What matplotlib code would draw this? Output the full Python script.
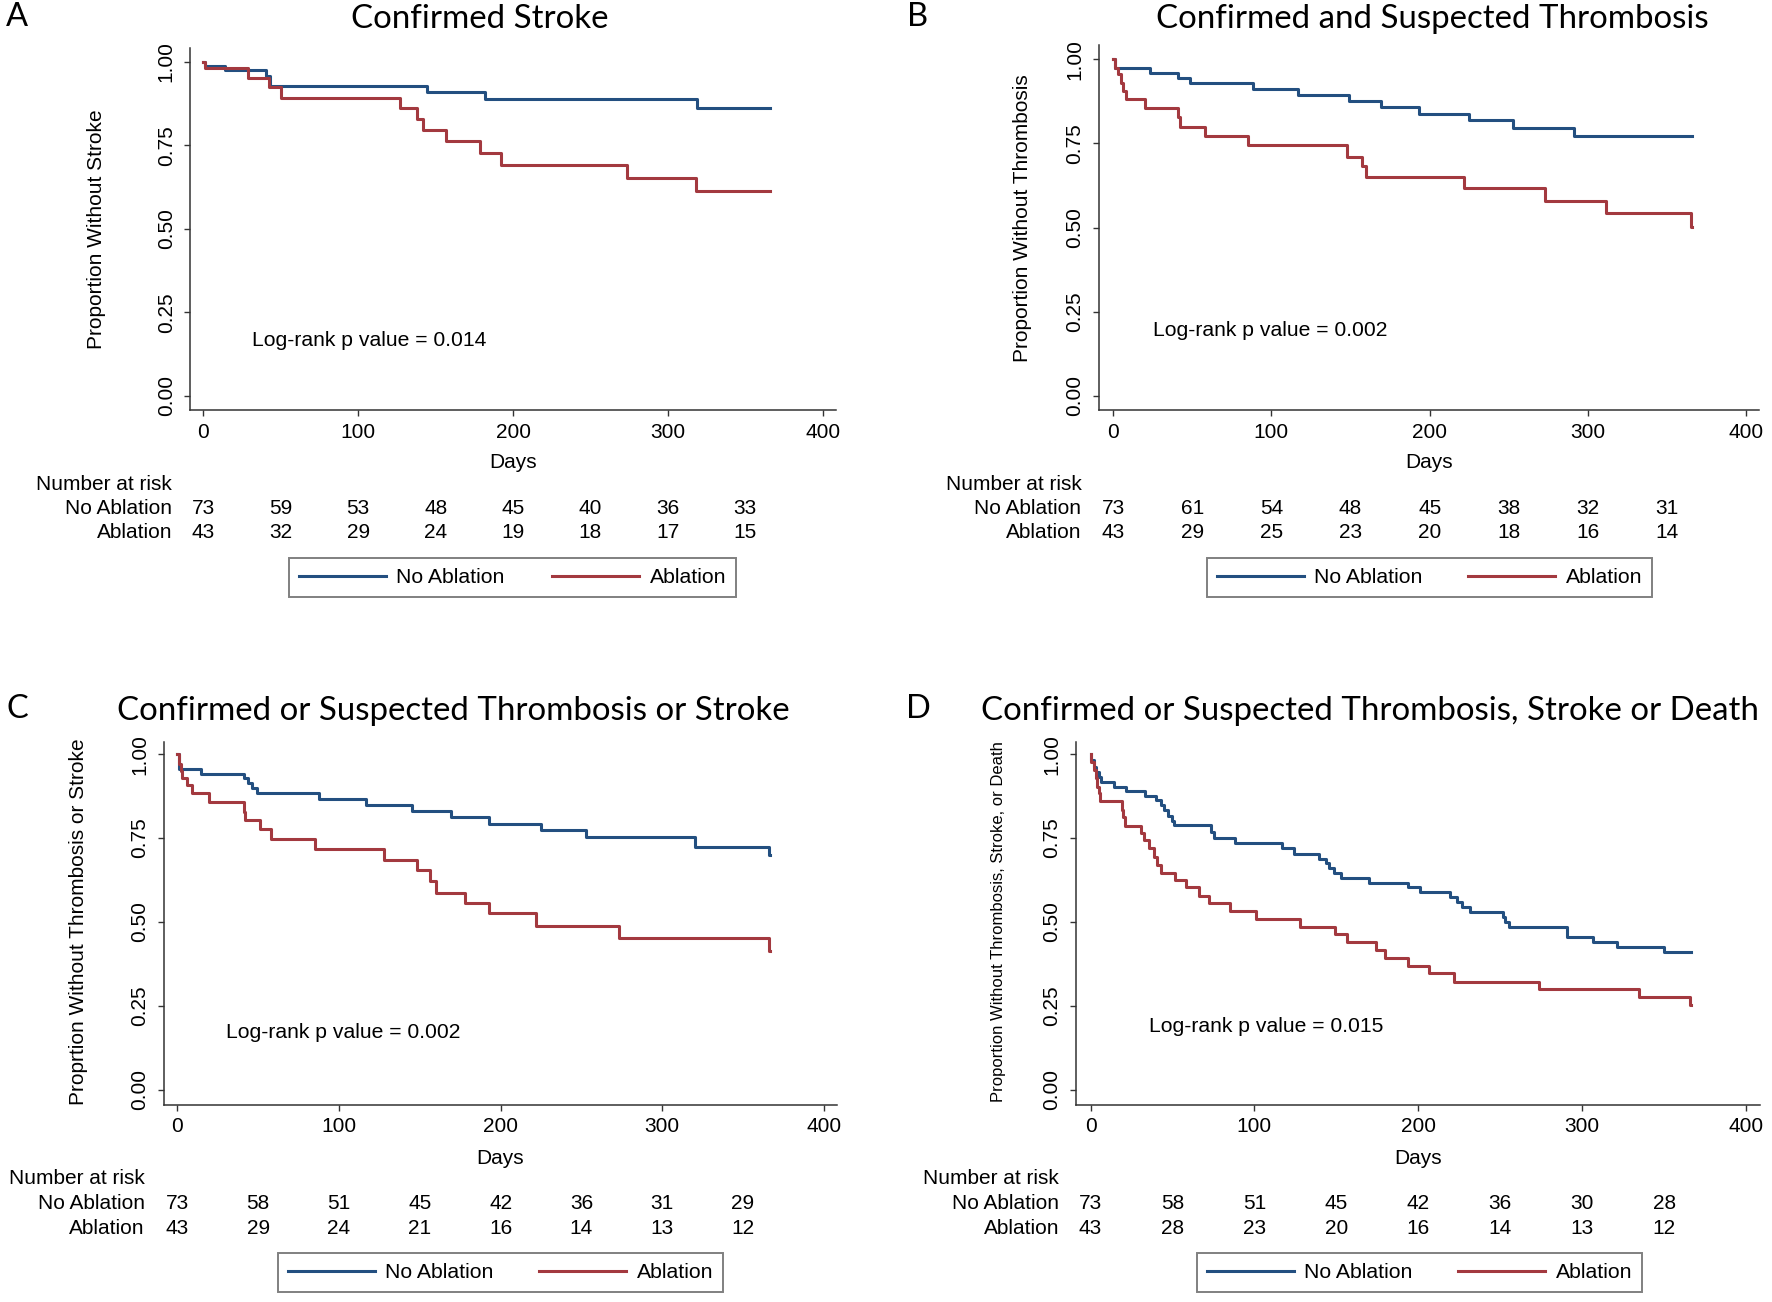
import matplotlib.pyplot as plt
from matplotlib.lines import Line2D
from matplotlib.transforms import blended_transform_factory

plt.rcParams['font.family'] = ['Liberation Sans', 'DejaVu Sans']

W, H = 1772, 1302
BLUE = '#234f80'
RED = '#a3393f'
TITLE_FONT = ['Lato', 'DejaVu Sans']

# step curves: day of each step, survival after it
a_no_days = [0, 1, 14, 40.6, 43, 144.6, 182, 319, 366]
a_no_surv = [1.0, 0.987, 0.975, 0.957, 0.927, 0.908, 0.888, 0.862, 0.862]
a_ab_days = [0, 1, 29, 42.5, 50, 127, 138, 142, 157, 178.5, 192, 273.6, 318, 366]
a_ab_surv = [1.0, 0.980, 0.952, 0.923, 0.892, 0.860, 0.828, 0.795, 0.762, 0.726,
             0.691, 0.653, 0.612, 0.612]

b_no_days = [0, 1, 23, 41, 48.5, 88.5, 117, 149, 169, 193, 225, 253, 291, 366]
b_no_surv = [1.0, 0.973, 0.958, 0.944, 0.929, 0.911, 0.893, 0.875, 0.857, 0.838,
             0.819, 0.797, 0.772, 0.772]
b_ab_days = [0, 1, 3, 5, 6, 8, 20, 41, 42, 58, 85, 148, 157, 160, 222, 273, 311.5,
             365, 366]
b_ab_surv = [1.0, 0.973, 0.955, 0.929, 0.906, 0.881, 0.856, 0.828, 0.800, 0.772,
             0.744, 0.711, 0.683, 0.651, 0.616, 0.580, 0.544, 0.502, 0.502]

c_no_days = [0, 1, 14.4, 41, 43.5, 46, 49, 87.6, 117, 145, 169, 193, 225, 253,
             320.5, 366, 366.5]
c_no_surv = [1.0, 0.957, 0.942, 0.928, 0.913, 0.898, 0.883, 0.866, 0.849, 0.831,
             0.812, 0.793, 0.774, 0.752, 0.724, 0.699, 0.699]
c_ab_days = [0, 1, 2, 2.7, 6, 8.7, 19.6, 41, 42, 51, 57.7, 85, 128, 148, 156, 160,
             178, 193, 222, 273, 366, 366.5]
c_ab_surv = [1.0, 0.972, 0.950, 0.928, 0.908, 0.883, 0.857, 0.829, 0.804, 0.776,
             0.748, 0.716, 0.685, 0.655, 0.623, 0.587, 0.558, 0.526, 0.488, 0.453,
             0.415, 0.415]

d_no_days = [0, 0.5, 1.9, 3.3, 5.4, 6.5, 14.1, 21.5, 33.2, 40, 42.7, 44.9, 47.3,
             49.5, 50.9, 73.5, 75.4, 88.4, 117, 124.4, 139.3, 143.4, 145.6, 148.8,
             152.9, 169.8, 193.7, 201.1, 219.6, 223.7, 226.9, 231.3, 251.4, 253.1,
             255.5, 290.9, 306.7, 321.1, 350.2, 366.5]
d_no_surv = [1.0, 0.982, 0.962, 0.947, 0.933, 0.918, 0.903, 0.890, 0.876, 0.863,
             0.848, 0.833, 0.815, 0.802, 0.789, 0.769, 0.749, 0.734, 0.719, 0.704,
             0.689, 0.675, 0.660, 0.645, 0.632, 0.617, 0.603, 0.588, 0.575, 0.560,
             0.546, 0.531, 0.516, 0.501, 0.486, 0.456, 0.441, 0.427, 0.412, 0.412]
d_ab_days = [0, 0.5, 1.9, 3.3, 4.1, 5.2, 6.0, 19.0, 20.1, 21.0, 30.5, 32.7, 35.9,
             38.6, 40.8, 42.7, 51.4, 58.5, 65.9, 72.1, 84.9, 101.2, 127.9, 149.4,
             156.2, 174.1, 179.6, 193.7, 206.8, 221.8, 273.5, 334.4, 365.7, 366.5]
d_ab_surv = [1.0, 0.977, 0.952, 0.928, 0.903, 0.883, 0.861, 0.833, 0.812, 0.787,
             0.764, 0.744, 0.719, 0.694, 0.670, 0.645, 0.625, 0.603, 0.578, 0.556,
             0.533, 0.509, 0.486, 0.463, 0.439, 0.417, 0.392, 0.369, 0.347, 0.322,
             0.300, 0.278, 0.253, 0.253]

# number at risk table
risk_days = [0, 50, 100, 150, 200, 250, 300, 350]
a_risk_no = [73, 59, 53, 48, 45, 40, 36, 33]
a_risk_ab = [43, 32, 29, 24, 19, 18, 17, 15]
b_risk_no = [73, 61, 54, 48, 45, 38, 32, 31]
b_risk_ab = [43, 29, 25, 23, 20, 18, 16, 14]
c_risk_no = [73, 58, 51, 45, 42, 36, 31, 29]
c_risk_ab = [43, 29, 24, 21, 16, 14, 13, 12]
d_risk_no = [73, 58, 51, 45, 42, 36, 30, 28]
d_risk_ab = [43, 28, 23, 20, 16, 14, 13, 12]

yticks = [0, 0.25, 0.5, 0.75, 1.0]
ytick_labels = ['0.00', '0.25', '0.50', '0.75', '1.00']
xticks = [0, 100, 200, 300, 400]


def fx(px):
    return px / W


def fy(py):
    return 1 - py / H


fig = plt.figure(figsize=(W / 100, H / 100), dpi=100)


def panel(box, xlim, ylim, no, ab, letter, letter_xy, title, title_x,
          ylabel, ylabel_xy, ylabel_fs, pval, pval_xy, days_xy,
          risk_no, risk_ab, risk_right, rows_y, leg_box):
    left, right, top, bottom = box
    ax = fig.add_axes([fx(left), fy(bottom), (right - left) / W, (bottom - top) / H])
    ax.step(no[0], no[1], where='post', color=BLUE, lw=2.2)
    ax.step(ab[0], ab[1], where='post', color=RED, lw=2.2)
    ax.set_xlim(*xlim)
    ax.set_ylim(*ylim)
    for s in ['top', 'right']:
        ax.spines[s].set_visible(False)
    for s in ['left', 'bottom']:
        ax.spines[s].set_linewidth(1.1)
        ax.spines[s].set_color('#333333')
    ax.set_xticks(xticks)
    ax.set_yticks(yticks)
    ax.set_yticklabels(ytick_labels, rotation=90, va='center')
    ax.tick_params(direction='out', length=4.5, width=1.0, color='#333333',
                   labelsize=15)
    ax.tick_params(axis='x', pad=4.5)
    ax.tick_params(axis='y', pad=6)

    ax.set_ylabel(ylabel, fontsize=ylabel_fs, va='center')
    ax.yaxis.set_label_coords(fx(ylabel_xy[0]), fy(ylabel_xy[1]),
                              transform=fig.transFigure)

    fig.text(fx(letter_xy[0]), fy(letter_xy[1]), letter, family=TITLE_FONT,
             fontsize=23.5, ha='center', va='center')
    fig.text(fx(title_x), fy(letter_xy[1] + 2), title, family=TITLE_FONT,
             fontsize=23.8, ha='center', va='center')
    fig.text(fx(pval_xy[0]), fy(pval_xy[1]), 'Log-rank p value = ' + pval,
             fontsize=15.2, ha='left', va='center')
    fig.text(fx(days_xy[0]), fy(days_xy[1]), 'Days', fontsize=15,
             ha='center', va='center')

    # number at risk
    fig.text(fx(risk_right), fy(rows_y[0]), 'Number at risk', fontsize=15,
             ha='right', va='center')
    fig.text(fx(risk_right), fy(rows_y[1]), 'No Ablation', fontsize=15,
             ha='right', va='center')
    fig.text(fx(risk_right), fy(rows_y[2]), 'Ablation', fontsize=15,
             ha='right', va='center')
    trans = blended_transform_factory(ax.transData, fig.transFigure)
    for d, n1, n2 in zip(risk_days, risk_no, risk_ab):
        ax.text(d, fy(rows_y[1]), str(n1), transform=trans, fontsize=15,
                ha='center', va='center')
        ax.text(d, fy(rows_y[2]), str(n2), transform=trans, fontsize=15,
                ha='center', va='center')

    handles = [Line2D([], [], color=BLUE, lw=2.2), Line2D([], [], color=RED, lw=2.2)]
    l, t, r, b = leg_box
    leg = ax.legend(handles, ['No Ablation', 'Ablation'], loc='center',
                    bbox_to_anchor=(fx(l), fy(b), (r - l) / W, (b - t) / H),
                    bbox_transform=fig.transFigure, mode='expand', ncol=2,
                    fancybox=False, edgecolor='#808080', framealpha=1,
                    fontsize=15.3, handlelength=4.1, handletextpad=0.5,
                    borderpad=0.45, borderaxespad=0)
    leg.get_frame().set_linewidth(1.4)
    return ax


panel((190.4, 835.7, 48, 410), (-8.4, 408.4), (-0.0428, 1.041),
      (a_no_days, a_no_surv), (a_ab_days, a_ab_surv),
      'A', (17, 17), 'Confirmed Stroke', 480,
      'Proportion Without Stroke', (96, 229), 15, '0.014', (252, 340), (513, 463),
      a_risk_no, a_risk_ab, 172, (484, 508.5, 533), (289, 557, 736, 598))

panel((1099, 1759, 45, 410), (-9, 408.2), (-0.0425, 1.0425),
      (b_no_days, b_no_surv), (b_ab_days, b_ab_surv),
      'B', (918, 17), 'Confirmed and Suspected Thrombosis', 1432,
      'Proportion Without Thrombosis', (1023, 218), 15, '0.002', (1153, 330),
      (1429, 463), b_risk_no, b_risk_ab, 1081.5, (484, 508.5, 533),
      (1207, 557, 1652, 598))

panel((164.2, 837, 741.7, 1105), (-8.2, 408.2), (-0.045, 1.037),
      (c_no_days, c_no_surv), (c_ab_days, c_ab_surv),
      'C', (17, 708.5), 'Confirmed or Suspected Thrombosis or Stroke', 453,
      'Proprtion Without Thrombosis or Stroke', (79, 922), 15, '0.002', (226, 1033),
      (500.5, 1158), c_risk_no, c_risk_ab, 144.7, (1178.7, 1203.5, 1228.4),
      (278, 1252, 723, 1293))

panel((1075.8, 1759.5, 741.7, 1105), (-9, 408.2), (-0.045, 1.037),
      (d_no_days, d_no_surv), (d_ab_days, d_ab_surv),
      'D', (918, 708.5), 'Confirmed or Suspected Thrombosis, Stroke or Death', 1370,
      'Proportion Without Thrombosis, Stroke, or Death', (999, 922), 12, '0.015',
      (1149, 1027), (1418, 1158), d_risk_no, d_risk_ab, 1059,
      (1178.7, 1203.5, 1228.4), (1197, 1252, 1642, 1293))

fig.savefig('out.png', dpi=100)
